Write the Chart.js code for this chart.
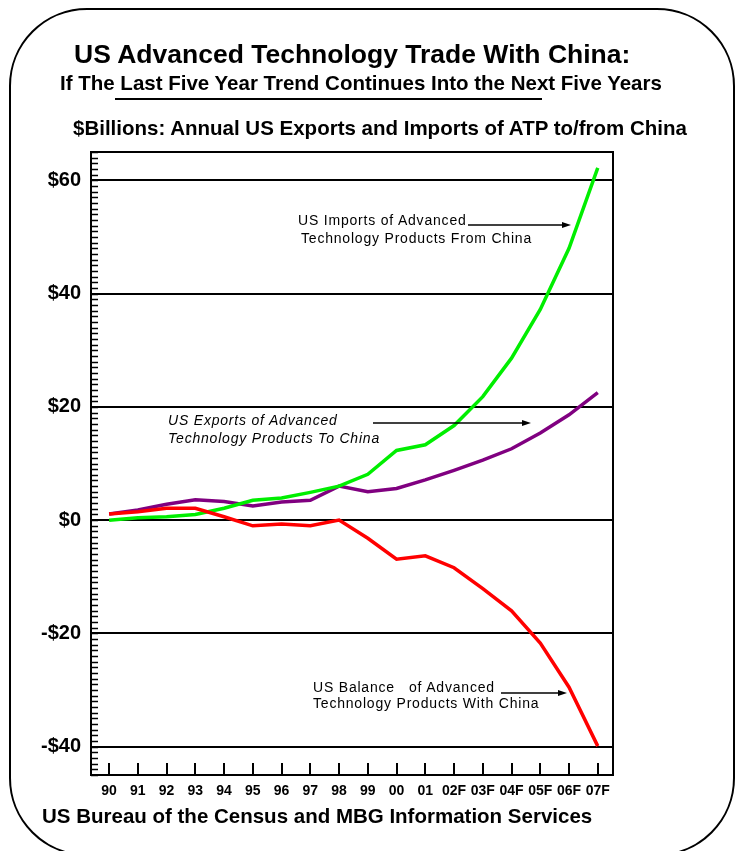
<!DOCTYPE html>
<html>
<head>
<meta charset="utf-8">
<script src="https://cdn.jsdelivr.net/npm/chart.js@4.4.0/dist/chart.umd.min.js"></script>
<style>
  html, body { margin: 0; padding: 0; background: #fff; }
  #wrap { position: relative; width: 738px; height: 851px; overflow: hidden; font-family: "Liberation Sans", Arial, sans-serif; color: #000; }
  #frame { position: absolute; left: 9px; top: 8px; width: 726px; height: 848px; border: 2px solid #000; border-radius: 78px; box-sizing: border-box; }
  #chart { position: absolute; left: 0; top: 0; }
  .t { position: absolute; white-space: nowrap; line-height: 1; }
  .b { font-weight: bold; }
  .note { font-size: 14px; letter-spacing: 0.8px; }
  .it { font-style: italic; }
  #uline { position: absolute; left: 115px; top: 98px; width: 427px; height: 2px; background: #000; }
</style>
</head>
<body>
<div id="wrap">
  <div id="frame"></div>
  <canvas id="chart" width="738" height="851"></canvas>

  <div class="t b" style="left:74px; top:41px; font-size:26.5px;">US Advanced Technology Trade With China:</div>
  <div class="t b" style="left:60px; top:73px; font-size:20.5px;">If The Last Five Year Trend Continues Into the Next Five Years</div>
  <div id="uline"></div>
  <div class="t b" style="left:73px; top:118px; font-size:20.5px;">$Billions: Annual US Exports and Imports of ATP to/from China</div>

  <div class="t note" style="left:298px; top:213px;">US Imports of Advanced</div>
  <div class="t note" style="left:301px; top:231px;">Technology Products From China</div>

  <div class="t note it" style="left:168px; top:413px;">US Exports of Advanced</div>
  <div class="t note it" style="left:168px; top:431px;">Technology Products To China</div>

  <div class="t note" style="left:313px; top:680px;">US Balance&nbsp;&nbsp; of Advanced</div>
  <div class="t note" style="left:313px; top:696px;">Technology Products With China</div>

  <div class="t b" style="left:42px; top:806px; font-size:20.5px;">US Bureau of the Census and MBG Information Services</div>
</div>

<script>
const years = ["90", "91", "92", "93", "94", "95", "96", "97", "98", "99", "00", "01",
               "02F", "03F", "04F", "05F", "06F", "07F"];

// $ billions
const imports = [0.0, 0.4, 0.6, 1.0, 2.1, 3.5, 3.9, 4.9, 6.0, 8.1, 12.3, 13.3,
                 16.7, 21.8, 28.6, 37.2, 48.0, 62.2];
const exports = [1.1, 1.8, 2.8, 3.6, 3.3, 2.5, 3.2, 3.5, 6.0, 5.0, 5.6, 7.1,
                 8.8, 10.6, 12.6, 15.4, 18.6, 22.5];
const balance = [1.1, 1.5, 2.1, 2.1, 0.6, -1.0, -0.7, -1.0, 0.0, -3.2, -6.9, -6.3,
                 -8.4, -12.1, -16.0, -21.7, -29.5, -39.9];

const yTicks = [-40, -20, 0, 20, 40, 60];
const yMin = -45;
const yMax = 65;

const FONT = "'Liberation Sans', Arial, sans-serif";

// arrows next to the notes: [x1, x2, y] in canvas pixels
const arrows = [
  [468, 571, 225],
  [373, 531, 423],
  [501, 567, 693]
];

const toPoints = arr => arr.map((v, i) => ({ x: i, y: v }));

const boxAndTicks = {
  id: "boxAndTicks",
  afterDatasetsDraw(chart) {
    const c = chart.ctx;
    const a = chart.chartArea;
    const xs = chart.scales.x;
    const ys = chart.scales.y;
    c.save();
    c.strokeStyle = "#000";
    c.lineWidth = 2;
    c.strokeRect(a.left, a.top, a.right - a.left, a.bottom - a.top);

    // small ticks every $1 on the left edge
    c.lineWidth = 1.5;
    c.beginPath();
    for (let v = yMin; v <= yMax; v++) {
      const y = Math.round(ys.getPixelForValue(v)) + 0.5;
      c.moveTo(a.left, y);
      c.lineTo(a.left + 7, y);
    }
    c.stroke();

    // year ticks on the bottom edge
    c.lineWidth = 2;
    c.beginPath();
    years.forEach((_, i) => {
      const x = Math.round(xs.getPixelForValue(i));
      c.moveTo(x, a.bottom);
      c.lineTo(x, a.bottom - 12);
    });
    c.stroke();

    // note arrows
    c.lineWidth = 1.5;
    arrows.forEach(([x1, x2, y]) => {
      c.beginPath();
      c.moveTo(x1, y);
      c.lineTo(x2 - 6, y);
      c.stroke();
      c.beginPath();
      c.moveTo(x2, y);
      c.lineTo(x2 - 9, y - 3);
      c.lineTo(x2 - 9, y + 3);
      c.closePath();
      c.fill();
    });
    c.restore();
  }
};

const ctx = document.getElementById("chart").getContext("2d");

new Chart(ctx, {
  type: "line",
  data: {
    datasets: [
      { label: "Balance", data: toPoints(balance), borderColor: "#ff0000" },
      { label: "Imports", data: toPoints(imports), borderColor: "#00ee00" },
      { label: "Exports", data: toPoints(exports), borderColor: "#800080" }
    ].map(d => Object.assign(d, { borderWidth: 3.5, pointRadius: 0, tension: 0, fill: false }))
  },
  options: {
    responsive: false,
    animation: false,
    layout: { padding: { left: 41, right: 125, top: 152, bottom: 51 } },
    plugins: { legend: { display: false }, tooltip: { enabled: false } },
    scales: {
      x: {
        type: "linear",
        min: -0.63,
        max: years.length - 1 + 0.53,
        afterBuildTicks: s => { s.ticks = years.map((_, i) => ({ value: i })); },
        grid: { display: false, drawTicks: false },
        border: { display: false },
        ticks: {
          color: "#000",
          font: { family: FONT, size: 14, weight: "bold" },
          padding: 8,
          maxRotation: 0,
          autoSkip: false,
          callback: v => years[v]
        },
        afterFit: s => { s.height = 25; }
      },
      y: {
        min: yMin,
        max: yMax,
        afterBuildTicks: s => { s.ticks = yTicks.map(v => ({ value: v })); },
        grid: { color: "#000", lineWidth: 2, drawTicks: false },
        border: { display: false },
        ticks: {
          color: "#000",
          font: { family: FONT, size: 20, weight: "bold" },
          padding: 10,
          callback: v => v < 0 ? "-$" + (-v) : "$" + v
        },
        afterFit: s => { s.width = 50; }
      }
    }
  },
  plugins: [boxAndTicks]
});
</script>
</body>
</html>
